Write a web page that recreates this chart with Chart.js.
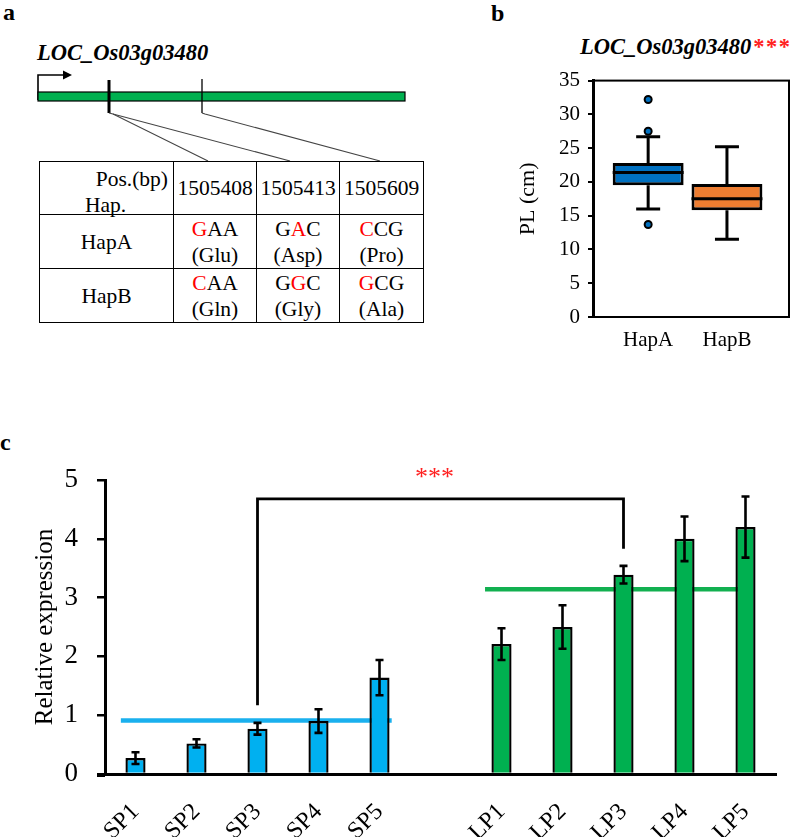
<!DOCTYPE html>
<html>
<head>
<meta charset="utf-8">
<script src="https://cdn.jsdelivr.net/npm/chart.js@4.4.1/dist/chart.umd.min.js"></script>
<style>
  html, body { margin:0; padding:0; background:#fff; }
  body { width:796px; height:837px; position:relative; overflow:hidden; font-family:"Liberation Serif","Times New Roman",serif; color:#000; }
  .lbl { position:absolute; font-weight:bold; font-size:24px; line-height:24px; }
  .gtitle { position:absolute; font-weight:bold; font-style:italic; font-size:22.5px; line-height:22px; white-space:nowrap; }
  .red { color:#FF0000; }
  .stars { color:#FF2020; letter-spacing:1.5px; margin-left:2px; font-style:normal; }
  #snp { position:absolute; left:39px; top:161px; border-collapse:collapse; font-size:21.5px; line-height:26px; }
  #snp td { border:1.6px solid #000; text-align:center; vertical-align:middle; padding:0; position:relative; }
  #snp tr.h td { height:52px; }
  #snp tr.r td { height:53px; }
  .pos { position:absolute; right:5px; top:4px; white-space:nowrap; }
  .hap { position:absolute; left:45px; top:30px; }
  canvas { position:absolute; }
</style>
</head>
<body>
<!-- panel labels -->
<div class="lbl" style="left:3px;top:0px;">a</div>
<div class="lbl" style="left:491px;top:1px;">b</div>
<div class="lbl" style="left:0px;top:430px;">c</div>

<!-- panel a: gene model -->
<div class="gtitle" style="left:37px;top:42px;">LOC_Os03g03480</div>
<svg style="position:absolute;left:0;top:0" width="440" height="170">
  <polyline points="38,100 38,75 64,75" fill="none" stroke="#000" stroke-width="1.6"/>
  <polygon points="63,70.5 72,75 63,79.5" fill="#000"/>
  <rect x="38" y="92" width="367" height="9" fill="#00B050" stroke="#000" stroke-width="1.2"/>
  <line x1="109" y1="80" x2="109" y2="113" stroke="#000" stroke-width="3"/>
  <line x1="202" y1="79" x2="202" y2="113" stroke="#000" stroke-width="1.3"/>
  <polyline points="109,113 113,114 208,161" fill="none" stroke="#444" stroke-width="1.1"/>
  <polyline points="113,114 290,161" fill="none" stroke="#444" stroke-width="1.1"/>
  <polyline points="202,113 205,114 380,161" fill="none" stroke="#444" stroke-width="1.1"/>
</svg>
<table id="snp">
  <tr class="h">
    <td style="width:133px;"><div class="pos">Pos.(bp)</div><div class="hap">Hap.</div></td>
    <td style="width:82px;">1505408</td>
    <td style="width:82px;">1505413</td>
    <td style="width:83px;">1505609</td>
  </tr>
  <tr class="r">
    <td>HapA</td>
    <td><span class="red">G</span>AA<br>(Glu)</td>
    <td>G<span class="red">A</span>C<br>(Asp)</td>
    <td><span class="red">C</span>CG<br>(Pro)</td>
  </tr>
  <tr class="r">
    <td>HapB</td>
    <td><span class="red">C</span>AA<br>(Gln)</td>
    <td>G<span class="red">G</span>C<br>(Gly)</td>
    <td><span class="red">G</span>CG<br>(Ala)</td>
  </tr>
</table>

<!-- panel b -->
<div class="gtitle" style="left:580px;top:36px;">LOC_Os03g03480<span class="stars">***</span></div>
<canvas id="chartB" width="316" height="300" style="left:480px;top:60px;width:316px;height:300px;"></canvas>

<!-- panel c -->
<canvas id="chartC" width="796" height="397" style="left:0px;top:440px;width:796px;height:397px;"></canvas>

<script>
// ---------- Panel b data (box plot of PL, cm) ----------
const hapLabels = ['HapA', 'HapB'];
const hapWhiskerLow = [16.0, 11.5];
const hapQ1 = [19.5, 15.8];
const hapMedian = [21.4, 17.5];
const hapQ3 = [22.8, 19.7];
const hapWhiskerHigh = [26.7, 25.2];
const hapOutliers = [[32.2, 27.5, 13.7], []];
const plTicks = [0, 5, 10, 15, 20, 25, 30, 35];

// ---------- Panel c data (relative expression) ----------
const spLabels = ['SP1', 'SP2', 'SP3', 'SP4', 'SP5'];
const lpLabels = ['LP1', 'LP2', 'LP3', 'LP4', 'LP5'];
const spValues = [0.27, 0.52, 0.77, 0.90, 1.64];
const spErrors = [0.10, 0.07, 0.10, 0.20, 0.30];
const lpValues = [2.21, 2.50, 3.39, 4.00, 4.20];
const lpErrors = [0.27, 0.37, 0.15, 0.38, 0.52];
const spMean = 0.91;
const lpMean = 3.14;
const spMeanSpan = [-0.24, 4.2];   // category-index extent of the SP mean line
const lpMeanSpan = [5.73, 9.88];   // category-index extent of the LP mean line
const bracketX = [2, 2, 8, 8];      // SP3 ... LP3
const bracketY = [1.17, 4.68, 4.68, 3.83];
const starsLabel = '***';
const starsPos = [4.9, 5.12];
const expTicks = [0, 1, 2, 3, 4, 5];

const SERIF = '"Liberation Serif","Times New Roman",serif';
const BLACK = '#000';

// ================= Panel b =================
const boxColors = ['#0070C0', '#ED7D31'];
const outlierPoints = [];
hapOutliers.forEach((arr, i) => arr.forEach(v => outlierPoints.push({x: i + 1, y: v})));

const boxPlugin = {
  id: 'boxParts',
  beforeDatasetsDraw(chart) {
    const {ctx} = chart;
    const xs = chart.scales.x, ys = chart.scales.y;
    ctx.save();
    ctx.strokeStyle = BLACK;
    ctx.lineWidth = 3;
    ctx.lineCap = 'butt';
    hapLabels.forEach((l, i) => {
      const x = xs.getPixelForValue(i + 1);
      const cap = 12;
      const segs = [[hapQ3[i], hapWhiskerHigh[i]], [hapQ1[i], hapWhiskerLow[i]]];
      segs.forEach(([a, b]) => {
        ctx.beginPath();
        ctx.moveTo(x, ys.getPixelForValue(a));
        ctx.lineTo(x, ys.getPixelForValue(b));
        ctx.moveTo(x - cap, ys.getPixelForValue(b));
        ctx.lineTo(x + cap, ys.getPixelForValue(b));
        ctx.stroke();
      });
    });
    ctx.restore();
  },
  afterDatasetsDraw(chart) {
    const {ctx, chartArea} = chart;
    const ys = chart.scales.y;
    const meta = chart.getDatasetMeta(1);
    ctx.save();
    ctx.strokeStyle = BLACK;
    ctx.lineWidth = 3;
    hapLabels.forEach((l, i) => {
      const el = meta.data[i];
      const half = el.width / 2;
      const x = el.x;
      const y = ys.getPixelForValue(hapMedian[i]);
      ctx.beginPath();
      ctx.moveTo(x - half, y);
      ctx.lineTo(x + half, y);
      ctx.stroke();
    });
    // frame around plot area
    ctx.lineWidth = 2;
    ctx.strokeRect(chartArea.left, chartArea.top, chartArea.right - chartArea.left - 1, chartArea.bottom - chartArea.top);
    ctx.restore();
  }
};

new Chart(document.getElementById('chartB'), {
  type: 'bar',
  data: {
    datasets: [
      {
        type: 'scatter',
        data: outlierPoints,
        pointRadius: 3.5,
        pointBackgroundColor: '#0070C0',
        pointBorderColor: BLACK,
        pointBorderWidth: 2,
        order: 0
      },
      {
        type: 'bar',
        data: hapLabels.map((l, i) => ({x: i + 1, y: [hapQ1[i], hapQ3[i]]})),
        backgroundColor: boxColors,
        borderColor: BLACK,
        borderWidth: 3,
        borderSkipped: false,
        grouped: false,
        barPercentage: 0.9,
        categoryPercentage: 1,
        order: 1
      }
    ]
  },
  options: {
    responsive: false,
    animation: false,
    layout: {padding: {top: 16, right: 1, left: 0, bottom: 0}},
    plugins: {legend: {display: false}, tooltip: {enabled: false}},
    scales: {
      x: {
        type: 'linear',
        offset: false,
        min: 0.3,
        max: 2.8,
        afterBuildTicks: s => { s.ticks = hapLabels.map((l, i) => ({value: i + 1})); },
        afterFit: s => { s.height = 43; },
        grid: {display: false, drawTicks: false, offset: false},
        border: {display: false},
        ticks: {
          callback: v => hapLabels[v - 1],
          font: {family: SERIF, size: 21},
          color: BLACK,
          padding: 11,
          maxRotation: 0
        }
      },
      y: {
        min: 0,
        max: 35,
        afterBuildTicks: s => { s.ticks = plTicks.map(v => ({value: v})); },
        afterFit: s => { s.width = 113; },
        grid: {drawOnChartArea: false, drawTicks: true, tickLength: 5, color: BLACK, lineWidth: 2},
        border: {display: true, color: BLACK, width: 3},
        ticks: {font: {family: SERIF, size: 21}, color: BLACK, padding: 8},
        title: {display: true, text: 'PL (cm)', font: {family: SERIF, size: 22}, color: BLACK, padding: {top: 35, bottom: 0}}
      }
    }
  },
  plugins: [boxPlugin]
});

// ================= Panel c =================
const catLabels = [...spLabels, '', ...lpLabels];
const catValues = [...spValues, null, ...lpValues];
const catErrors = [...spErrors, null, ...lpErrors];
const catColors = [...spLabels.map(() => '#00B0F0'), 'rgba(0,0,0,0)', ...lpLabels.map(() => '#00B050')];

const errPlugin = {
  id: 'errBarsStars',
  afterDatasetsDraw(chart) {
    const {ctx, chartArea} = chart;
    const xs = chart.scales.x, ys = chart.scales.y, x2 = chart.scales.x2;
    ctx.save();
    ctx.strokeStyle = BLACK;
    // x-axis line runs a little past the y axis, as in the original
    ctx.lineWidth = 3;
    ctx.beginPath();
    ctx.moveTo(chartArea.left - 8, chartArea.bottom + 1.5);
    ctx.lineTo(chartArea.left, chartArea.bottom + 1.5);
    ctx.stroke();
    ctx.lineWidth = 2.6;
    catValues.forEach((v, i) => {
      if (v === null) return;
      const e = catErrors[i];
      const x = xs.getPixelForValue(i);
      const yt = ys.getPixelForValue(v + e), yb = ys.getPixelForValue(v - e);
      const cap = 4;
      ctx.beginPath();
      ctx.moveTo(x, yt); ctx.lineTo(x, yb);
      ctx.moveTo(x - cap, yt); ctx.lineTo(x + cap, yt);
      ctx.moveTo(x - cap, yb); ctx.lineTo(x + cap, yb);
      ctx.stroke();
    });
    // significance stars
    ctx.fillStyle = '#FF2020';
    ctx.font = '26px ' + SERIF;
    ctx.textAlign = 'center';
    ctx.textBaseline = 'alphabetic';
    const sx = x2.getPixelForValue(starsPos[0]);
    const sy = ys.getPixelForValue(starsPos[1]);
    const m = ctx.measureText('*');
    const off = (m.actualBoundingBoxAscent - m.actualBoundingBoxDescent) / 2;
    const gap = 13;
    [...starsLabel].forEach((ch, k) => ctx.fillText(ch, sx + (k - 1) * gap, sy + off));
    ctx.restore();
  }
};

new Chart(document.getElementById('chartC'), {
  type: 'bar',
  data: {
    labels: catLabels,
    datasets: [
      {
        type: 'bar',
        data: catValues,
        backgroundColor: catColors,
        borderColor: BLACK,
        borderWidth: 2.4,
        borderSkipped: 'bottom',
        grouped: false,
        categoryPercentage: 1,
        barPercentage: 0.33,
        order: 1
      },
      {
        type: 'line',
        xAxisID: 'x2',
        data: [{x: spMeanSpan[0], y: spMean}, {x: spMeanSpan[1], y: spMean}],
        borderColor: '#1AB0EE',
        borderWidth: 4.5,
        pointRadius: 0,
        fill: false,
        order: 3
      },
      {
        type: 'line',
        xAxisID: 'x2',
        data: [{x: lpMeanSpan[0], y: lpMean}, {x: lpMeanSpan[1], y: lpMean}],
        borderColor: '#12B050',
        borderWidth: 4.5,
        pointRadius: 0,
        fill: false,
        order: 3
      },
      {
        type: 'line',
        xAxisID: 'x2',
        data: bracketX.map((x, i) => ({x: x, y: bracketY[i]})),
        borderColor: BLACK,
        borderWidth: 2.8,
        pointRadius: 0,
        fill: false,
        tension: 0,
        borderJoinStyle: 'miter',
        order: 0
      }
    ]
  },
  options: {
    responsive: false,
    animation: false,
    layout: {padding: {top: 40, right: 20, left: 0, bottom: 0}},
    plugins: {legend: {display: false}, tooltip: {enabled: false}},
    scales: {
      x: {
        type: 'category',
        offset: true,
        afterFit: s => { s.height = 63; },
        grid: {display: false, drawTicks: false},
        border: {display: true, color: BLACK, width: 3},
        ticks: {
          font: {family: SERIF, size: 24},
          color: BLACK,
          minRotation: 45,
          maxRotation: 45,
          autoSkip: false,
          padding: 24
        }
      },
      x2: {type: 'linear', display: false, offset: false, min: -0.5, max: 10.5, grid: {offset: false}},
      y: {
        min: 0,
        max: 5,
        afterBuildTicks: s => { s.ticks = expTicks.map(v => ({value: v})); },
        afterFit: s => { s.width = 105; },
        grid: {drawOnChartArea: false, drawTicks: true, tickLength: 8, color: BLACK, lineWidth: 2.5},
        border: {display: true, color: BLACK, width: 3},
        ticks: {font: {family: SERIF, size: 27}, color: BLACK, padding: 19},
        title: {display: true, text: 'Relative expression', font: {family: SERIF, size: 25}, color: BLACK, padding: {top: 30, bottom: 0}}
      }
    }
  },
  plugins: [errPlugin]
});
</script>
</body>
</html>
